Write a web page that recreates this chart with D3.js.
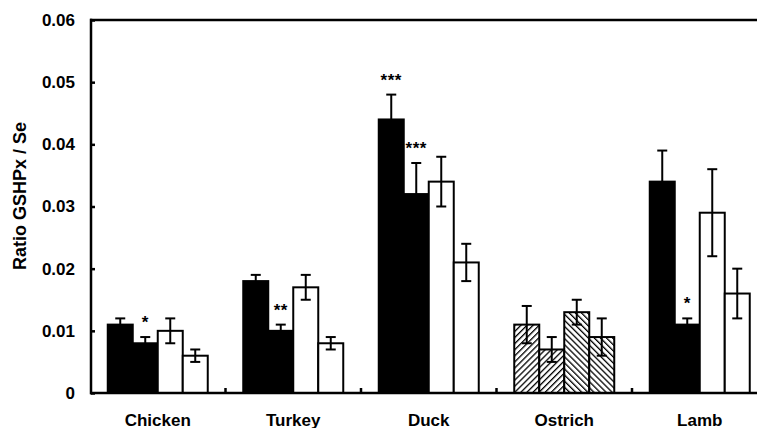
<!DOCTYPE html>
<html>
<head>
<meta charset="utf-8">
<script src="https://cdn.jsdelivr.net/npm/d3@7"></script>
<style>
  html, body { margin: 0; padding: 0; background: #fff; }
  svg { display: block; font-family: "Liberation Sans", Arial, Helvetica, sans-serif; }
</style>
</head>
<body>
<svg id="chart" width="757" height="428"></svg>
<script>
// GSHPx / Se ratio by species, four groups per species
const categories = ["Chicken", "Turkey", "Duck", "Ostrich", "Lamb"];
const group1 = [0.011, 0.018, 0.044, 0.011, 0.034];
const group2 = [0.008, 0.010, 0.032, 0.007, 0.011];
const group3 = [0.010, 0.017, 0.034, 0.013, 0.029];
const group4 = [0.006, 0.008, 0.021, 0.009, 0.016];
const err1 = [0.001, 0.001, 0.004, 0.003, 0.005];
const err2 = [0.001, 0.001, 0.005, 0.002, 0.001];
const err3 = [0.002, 0.002, 0.004, 0.002, 0.007];
const err4 = [0.001, 0.001, 0.003, 0.003, 0.004];
const sig1 = ["", "", "***", "", ""];
const sig2 = ["*", "**", "***", "", "*"];
const yTicks = [0, 0.01, 0.02, 0.03, 0.04, 0.05, 0.06];
const yTitle = "Ratio GSHPx / Se";

const values = [group1, group2, group3, group4];
const errors = [err1, err2, err3, err4];
const sigs = [sig1, sig2, [], []];

const rows = [];
categories.forEach((c, ci) => {
  values.forEach((vals, si) => {
    rows.push({ cat: c, ci, si, v: vals[ci], e: errors[si][ci], sig: sigs[si][ci] || "" });
  });
});

const svg = d3.select("#chart");
const plotLeft = 91, plotTop = 20, plotBottom = 393, plotRight = 757;

const y = d3.scaleLinear().domain([0, 0.06]).range([plotBottom, plotTop]);
const x = d3.scaleBand().domain(categories).range([90, 767.5]);
const xi = d3.scaleBand().domain([0, 1, 2, 3]).range([17.75, 117.75]);

// hatch patterns for the ostrich bars
const defs = svg.append("defs");
function hatch(id, angle) {
  const s = 4.3;
  const p = defs.append("pattern")
    .attr("id", id).attr("patternUnits", "userSpaceOnUse")
    .attr("width", s).attr("height", s)
    .attr("patternTransform", `rotate(${angle})`);
  p.append("rect").attr("width", s).attr("height", s).attr("fill", "#fff");
  p.append("line").attr("x1", 0).attr("y1", 0).attr("x2", 0).attr("y2", s)
    .attr("stroke", "#000").attr("stroke-width", 2.6);
}
hatch("hatchA", 45);
hatch("hatchB", -45);

function fillFor(d) {
  if (d.cat === "Ostrich") return d.si < 2 ? "url(#hatchA)" : "url(#hatchB)";
  return d.si < 2 ? "#000" : "#fff";
}

// bars
svg.append("g").selectAll("rect").data(rows).join("rect")
  .attr("x", d => x(d.cat) + xi(d.si))
  .attr("y", d => y(d.v))
  .attr("width", xi.bandwidth())
  .attr("height", d => plotBottom - y(d.v))
  .attr("fill", fillFor)
  .attr("stroke", "#000")
  .attr("stroke-width", 2);

// error bars
const eb = svg.append("g").attr("stroke", "#000").attr("stroke-width", 2);
const cx = d => x(d.cat) + xi(d.si) + xi.bandwidth() / 2;
eb.selectAll("line.v").data(rows).join("line").attr("class", "v")
  .attr("x1", cx).attr("x2", cx)
  .attr("y1", d => y(d.v - d.e)).attr("y2", d => y(d.v + d.e));
eb.selectAll("line.t").data(rows).join("line").attr("class", "t")
  .attr("x1", d => cx(d) - 5).attr("x2", d => cx(d) + 5)
  .attr("y1", d => y(d.v + d.e)).attr("y2", d => y(d.v + d.e));
eb.selectAll("line.b").data(rows).join("line").attr("class", "b")
  .attr("x1", d => cx(d) - 5).attr("x2", d => cx(d) + 5)
  .attr("y1", d => y(d.v - d.e)).attr("y2", d => y(d.v - d.e));

// significance marks
svg.append("g").selectAll("text").data(rows.filter(d => d.sig)).join("text")
  .attr("x", cx)
  .attr("y", d => y(d.v + d.e) - 9)
  .attr("text-anchor", "middle")
  .attr("font-size", 17)
  .attr("font-weight", "bold")
  .attr("letter-spacing", 0.5)
  .text(d => d.sig);

// frame: top line
svg.append("line").attr("x1", plotLeft - 1).attr("x2", plotRight).attr("y1", plotTop).attr("y2", plotTop)
  .attr("stroke", "#000").attr("stroke-width", 2.5);

// y axis, ticks pointing inward
const yAxis = d3.axisLeft(y).tickValues(yTicks)
  .tickSize(-4).tickPadding(16)
  .tickFormat(d => d === 0 ? "0" : d3.format(".2f")(d));
const gy = svg.append("g").attr("transform", `translate(${plotLeft},0)`).call(yAxis);
gy.select(".domain").remove();
gy.selectAll(".tick line").attr("stroke", "#000").attr("stroke-width", 2.5);
gy.selectAll(".tick text").attr("font-size", 17).attr("font-weight", "bold")
  .attr("font-family", "Liberation Sans, Arial, sans-serif").attr("fill", "#000");
svg.append("line").attr("x1", plotLeft).attr("x2", plotLeft).attr("y1", plotTop - 1.25).attr("y2", plotBottom + 1.25)
  .attr("stroke", "#000").attr("stroke-width", 2.5);

// x axis
svg.append("line").attr("x1", plotLeft - 1).attr("x2", plotRight).attr("y1", plotBottom).attr("y2", plotBottom)
  .attr("stroke", "#000").attr("stroke-width", 2.5);
svg.append("g").selectAll("line").data(categories.slice(1)).join("line")
  .attr("x1", d => x(d)).attr("x2", d => x(d))
  .attr("y1", plotBottom).attr("y2", plotBottom - 5)
  .attr("stroke", "#000").attr("stroke-width", 2.5);
svg.append("g").selectAll("text").data(categories).join("text")
  .attr("x", d => x(d) + x.bandwidth() / 2)
  .attr("y", 426)
  .attr("text-anchor", "middle")
  .attr("font-size", 17)
  .attr("font-weight", "bold")
  .text(d => d);

// y axis title
svg.append("text")
  .attr("transform", "translate(26,196) rotate(-90)")
  .attr("text-anchor", "middle")
  .attr("font-size", 18)
  .attr("font-weight", "bold")
  .text(yTitle);
</script>
</body>
</html>
